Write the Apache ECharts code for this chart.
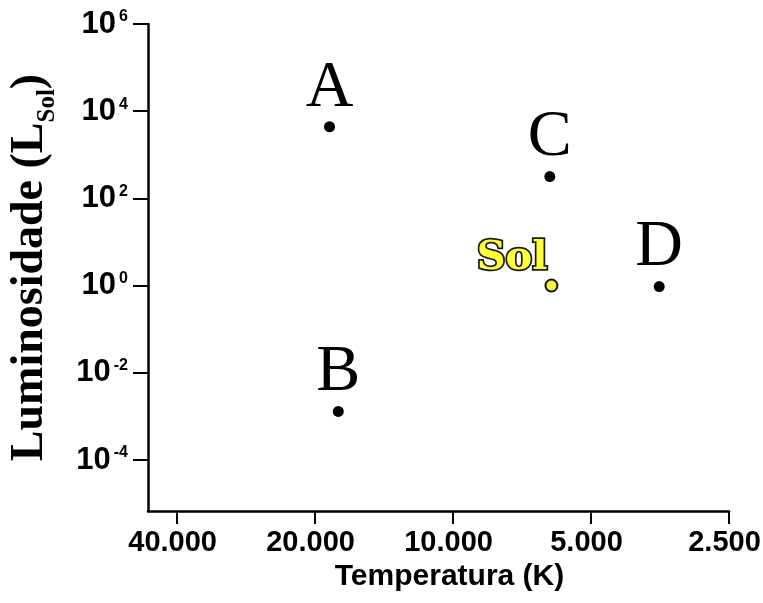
<!DOCTYPE html>
<html>
<head>
<meta charset="utf-8">
<script src="https://cdn.jsdelivr.net/npm/echarts@6/dist/echarts.min.js"></script>
<style>
html,body{margin:0;padding:0;background:#fff;}
#chart{width:763px;height:603px;}
</style>
</head>
<body>
<div id="chart"></div>
<script>
// ---- data ----
const starNames = ['A', 'B', 'C', 'D'];
const starTemps = [18600, 17800, 6150, 3550];      // K
const starLums  = [4400, 0.0013, 316, 0.95];        // L_Sol
const sunName = 'Sol';
const sunTemp = 6100;
const sunLum = 1;
const xTicks = [40000, 20000, 10000, 5000, 2500];
const yTicks = [1e-4, 1e-2, 1, 1e2, 1e4, 1e6];
const xTitle = 'Temperatura (K)';
const yTitleMain = 'Luminosidade (L';
const yTitleSub = 'Sol';

function fmtThousands(v) {
  return String(Math.round(v)).replace(/\B(?=(\d{3})+(?!\d))/g, '.');
}

const chart = echarts.init(document.getElementById('chart'), null, {renderer: 'canvas'});
const ink = '#000';
const option = {
  backgroundColor: '#ffffff',
  animation: false,
  grid: {left: 148, right: 34, top: 24, bottom: 92, containLabel: false, outerBoundsMode: 'none'},
  xAxis: {
    type: 'log',
    logBase: 10,
    min: 2500,
    max: 46300,
    inverse: true,
    name: xTitle,
    nameLocation: 'middle',
    nameGap: 49,
    nameTextStyle: {
      fontFamily: 'Liberation Sans, Arial, sans-serif',
      fontWeight: 'bold', fontSize: 30, color: ink, padding: [0, 0, 0, 22]
    },
    axisLine: {show: true, lineStyle: {color: ink, width: 2.5}},
    axisTick: {show: true, length: 13, lineStyle: {color: ink, width: 2}, customValues: xTicks},
    minorTick: {show: false},
    splitLine: {show: false},
    axisLabel: {
      customValues: xTicks,
      margin: 17,
      fontFamily: 'Liberation Sans, Arial, sans-serif',
      fontWeight: 'bold', fontSize: 29, color: ink,
      padding: [0, 9, 0, 0],
      formatter: v => fmtThousands(v)
    }
  },
  yAxis: {
    type: 'log',
    logBase: 10,
    min: 6.76e-6,
    max: 1e6,
    name: '{a|' + yTitleMain + '}{b|' + yTitleSub + '}{a|)}',
    nameLocation: 'middle',
    nameRotate: 90,
    nameGap: 88,
    nameTextStyle: {
      rich: {
        a: {fontFamily: 'Liberation Serif, Times New Roman, serif', fontWeight: 'bold', fontSize: 46, color: ink, lineHeight: 60},
        b: {fontFamily: 'Liberation Serif, Times New Roman, serif', fontWeight: 'bold', fontSize: 25, color: ink, lineHeight: 24, verticalAlign: 'bottom'}
      }
    },
    axisLine: {show: true, lineStyle: {color: ink, width: 2.5}},
    axisTick: {show: true, length: 15, lineStyle: {color: ink, width: 2}, customValues: yTicks},
    minorTick: {show: false},
    splitLine: {show: false},
    axisLabel: {
      customValues: yTicks,
      margin: 20,
      formatter: v => '{b|10}{s|' + Math.round(Math.log10(v)) + '}',
      rich: {
        b: {fontFamily: 'Liberation Sans, Arial, sans-serif', fontWeight: 'bold', fontSize: 31, color: ink, lineHeight: 30},
        s: {fontFamily: 'Liberation Sans, Arial, sans-serif', fontWeight: 'bold', fontSize: 16, color: ink, lineHeight: 19, verticalAlign: 'top', padding: [0, 0, 0, 3]}
      }
    }
  },
  series: [
    {
      type: 'scatter',
      name: 'stars',
      symbol: 'circle',
      symbolSize: 11,
      itemStyle: {color: '#000', opacity: 1},
      data: starNames.map((n, i) => ({name: n, value: [starTemps[i], starLums[i]]})),
      label: {
        show: true,
        position: 'top',
        distance: 0,
        formatter: p => p.name,
        fontFamily: 'Liberation Serif, Times New Roman, serif',
        fontSize: 66,
        color: '#000'
      }
    },
    {
      type: 'scatter',
      name: sunName,
      symbol: 'circle',
      symbolSize: 12,
      itemStyle: {color: '#f4f23c', borderColor: '#111', borderWidth: 2, opacity: 1},
      data: [{name: sunName, value: [sunTemp, sunLum]}],
      label: {
        show: true,
        position: 'left',
        distance: 0,
        offset: [3, -27],
        formatter: p => p.name,
        fontFamily: 'DejaVu Serif, serif',
        fontWeight: 'bold',
        fontSize: 40,
        color: '#ffff38',
        textBorderColor: '#1a1a1a',
        textBorderWidth: 3.5
      }
    }
  ]
};
chart.setOption(option);
</script>
</body>
</html>
